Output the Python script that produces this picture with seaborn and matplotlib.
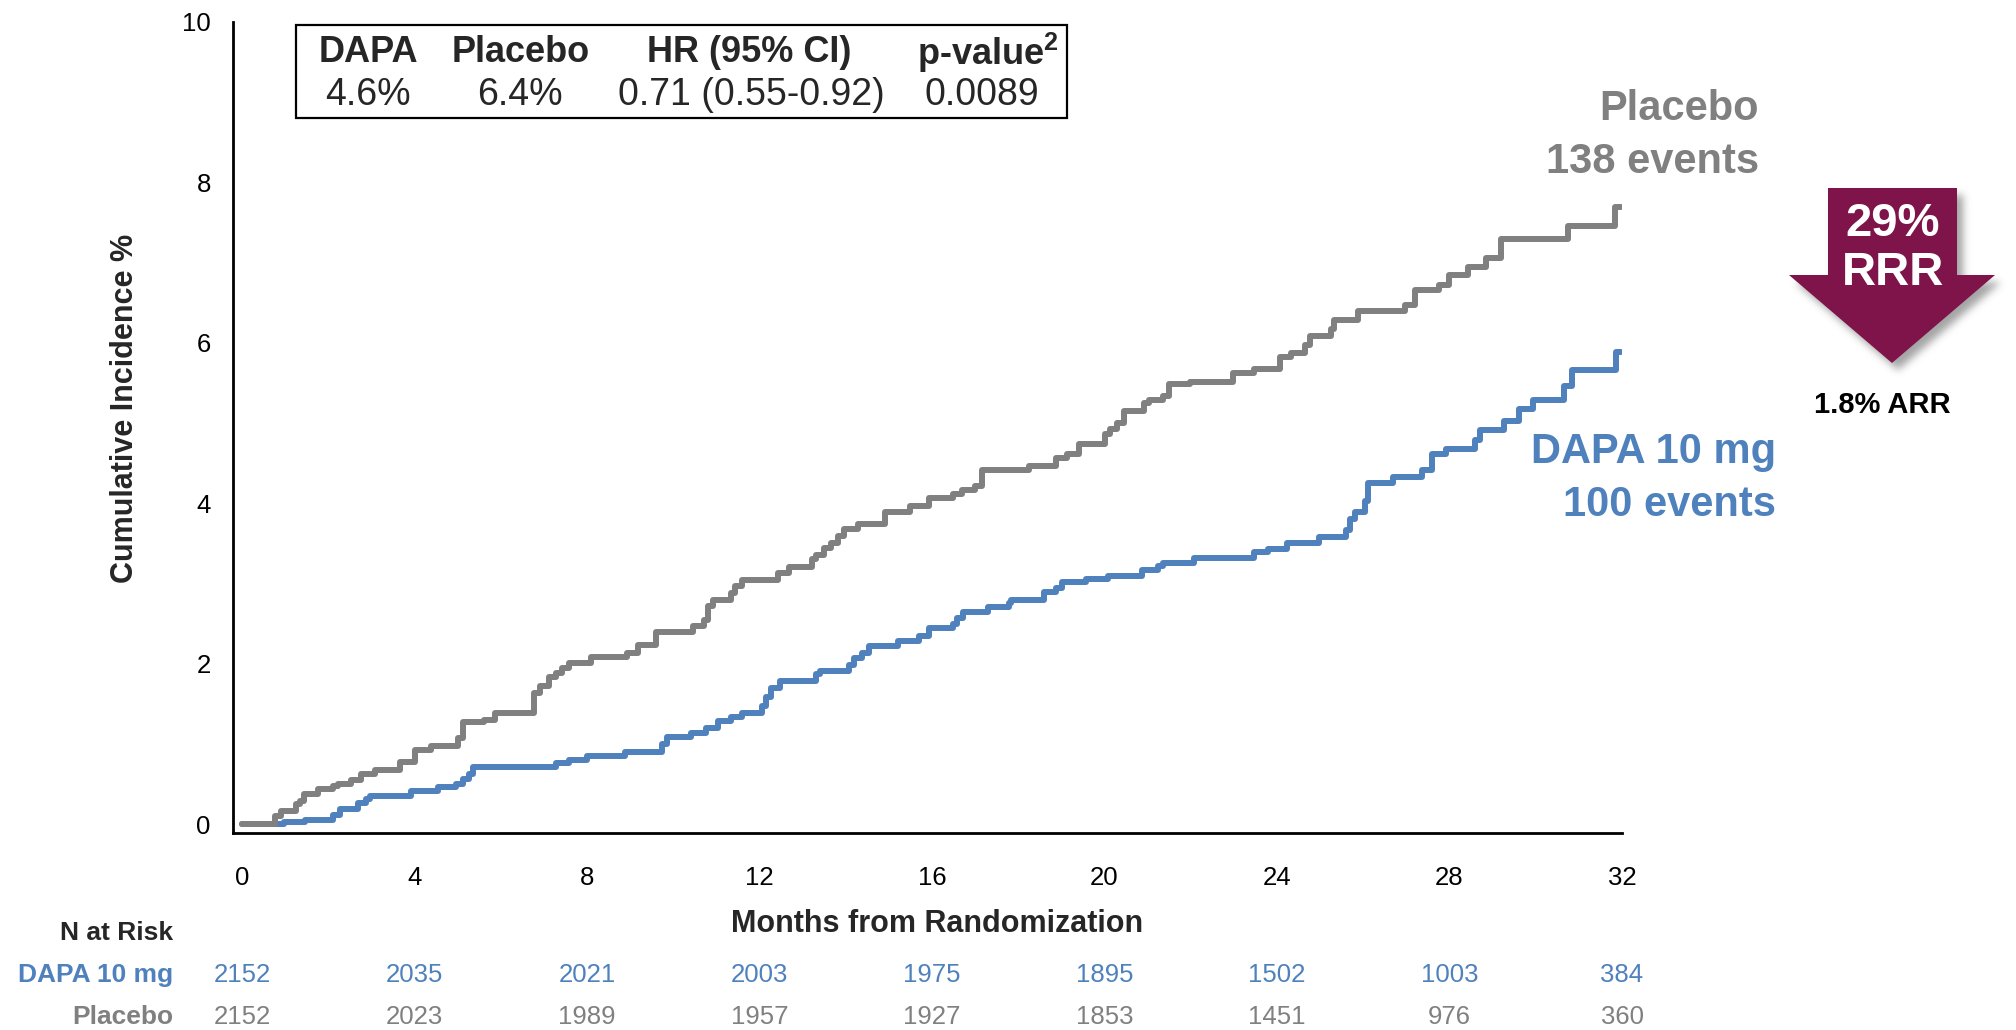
import numpy as np
import pandas as pd
import matplotlib
matplotlib.use("Agg")
import matplotlib.pyplot as plt
import matplotlib.transforms as mtransforms
from matplotlib.patches import Polygon, Rectangle
from matplotlib.path import Path
import seaborn as sns

# ---------------------------------------------------------------- data
placebo_months = [0, 0.77, 0.91, 1.24, 1.34, 1.44, 1.75, 2.11, 2.22, 2.53, 2.76, 3.09,
                  3.66, 4.00, 4.38, 5.00, 5.13, 5.62, 5.86, 6.78, 6.91, 7.11, 7.27, 7.42,
                  7.58, 8.09, 8.92, 9.18, 9.59, 10.46, 10.72, 10.80, 10.93, 11.34, 11.44,
                  11.60, 12.42, 12.68, 13.22, 13.30, 13.50, 13.66, 13.81, 13.97, 14.28,
                  14.92, 15.50, 15.94, 16.48, 16.70, 17.00, 17.17, 18.26, 18.88, 19.14,
                  19.40, 20.01, 20.12, 20.29, 20.46, 20.91, 21.02, 21.35, 21.50, 21.99,
                  22.97, 23.47, 24.08, 24.33, 24.64, 24.77, 25.25, 25.33, 25.87, 26.96,
                  27.20, 27.76, 27.98, 28.43, 28.85, 29.19, 30.75, 31.83, 31.98]
placebo_pct = [0, 0.10, 0.17, 0.25, 0.29, 0.37, 0.44, 0.47, 0.50, 0.55, 0.63, 0.67,
               0.78, 0.93, 0.98, 1.08, 1.27, 1.30, 1.38, 1.64, 1.72, 1.83, 1.89, 1.95,
               2.01, 2.08, 2.14, 2.23, 2.39, 2.47, 2.55, 2.72, 2.80, 2.88, 2.97,
               3.05, 3.13, 3.20, 3.30, 3.36, 3.44, 3.51, 3.59, 3.68, 3.74,
               3.89, 3.97, 4.07, 4.11, 4.16, 4.21, 4.41, 4.47, 4.57, 4.62,
               4.74, 4.86, 4.93, 5.00, 5.15, 5.25, 5.29, 5.34, 5.49, 5.51,
               5.63, 5.68, 5.82, 5.87, 5.97, 6.09, 6.17, 6.29, 6.40, 6.47,
               6.66, 6.72, 6.84, 6.94, 7.06, 7.29, 7.46, 7.69, 7.69]

dapa_months = [0, 0.98, 1.46, 2.11, 2.27, 2.70, 2.87, 2.97, 3.92, 4.54, 4.97, 5.13,
               5.26, 5.36, 7.27, 7.58, 7.99, 8.87, 9.74, 9.85, 10.41, 10.77, 11.03,
               11.34, 11.60, 12.06, 12.16, 12.27, 12.47, 13.30, 13.40, 14.07, 14.18,
               14.38, 14.54, 15.20, 15.70, 15.94, 16.48, 16.59, 16.72, 17.30, 17.78,
               17.84, 18.60, 18.88, 19.02, 19.57, 20.07, 20.87, 21.24, 21.35, 22.08,
               23.47, 23.80, 24.22, 24.97, 25.59, 25.70, 25.81, 26.03, 26.11, 26.70,
               27.37, 27.59, 27.93, 28.60, 28.71, 29.27, 29.60, 29.94, 30.66, 30.83,
               31.87, 31.98]
dapa_pct = [0, 0.03, 0.05, 0.12, 0.19, 0.27, 0.32, 0.35, 0.41, 0.46, 0.50, 0.56,
            0.62, 0.71, 0.76, 0.80, 0.85, 0.90, 1.00, 1.09, 1.14, 1.20, 1.29,
            1.33, 1.39, 1.47, 1.58, 1.70, 1.78, 1.87, 1.91, 1.99, 2.07,
            2.14, 2.22, 2.28, 2.34, 2.44, 2.50, 2.57, 2.64, 2.71, 2.76,
            2.80, 2.89, 2.95, 3.02, 3.06, 3.10, 3.17, 3.22, 3.25, 3.32,
            3.39, 3.43, 3.51, 3.58, 3.67, 3.81, 3.89, 4.03, 4.25, 4.33,
            4.42, 4.61, 4.68, 4.79, 4.92, 5.03, 5.17, 5.29, 5.46, 5.66,
            5.88, 5.88]

risk_months = [0, 4, 8, 12, 16, 20, 24, 28, 32]
dapa_at_risk = [2152, 2035, 2021, 2003, 1975, 1895, 1502, 1003, 384]
placebo_at_risk = [2152, 2023, 1989, 1957, 1927, 1853, 1451, 976, 360]

summary_headers = ["DAPA", "Placebo", "HR (95% CI)", r"p-value$^{\mathbf{2}}$"]
summary_values = ["4.6%", "6.4%", "0.71 (0.55-0.92)", "0.0089"]

arm_names = ["DAPA 10 mg", "Placebo"]
arm_events = ["100 events", "138 events"]
rrr_text = ["29%", "RRR"]
arr_text = "1.8% ARR"

BLUE = "#4F81BD"
GRAY = "#808080"
MAROON = "#7E1449"

# ---------------------------------------------------------------- style
sns.set_style("white")
plt.rcParams["font.family"] = ["Liberation Sans", "DejaVu Sans"]
plt.rcParams["mathtext.fontset"] = "custom"
plt.rcParams["mathtext.rm"] = "Liberation Sans"
plt.rcParams["mathtext.bf"] = "Liberation Sans:bold"

W, H = 2016, 1030
fig = plt.figure(figsize=(W / 100, H / 100), dpi=100)
fig.patch.set_facecolor("white")

# main axes, placed in pixel terms
left, right, top, bottom = 233, 1622, 22, 833
ax = fig.add_axes([left / W, 1 - bottom / H, (right - left) / W, (bottom - top) / H])

df = pd.concat([
    pd.DataFrame({"month": dapa_months, "pct": dapa_pct, "arm": "DAPA 10 mg"}),
    pd.DataFrame({"month": placebo_months, "pct": placebo_pct, "arm": "Placebo"}),
], ignore_index=True)

sns.lineplot(data=df, x="month", y="pct", hue="arm",
             hue_order=["DAPA 10 mg", "Placebo"],
             palette={"DAPA 10 mg": BLUE, "Placebo": GRAY},
             estimator=None, sort=True, drawstyle="steps-post",
             linewidth=4.3, legend=False, ax=ax)

ax.set_xlim(-0.21, 32)
ax.set_ylim(-0.11, 10)
ax.set_xticks(risk_months)
ax.set_yticks([0, 2, 4, 6, 8, 10])
ax.set_xlabel("")
ax.set_ylabel("")
for s in ["top", "right"]:
    ax.spines[s].set_visible(False)
for s in ["left", "bottom"]:
    ax.spines[s].set_linewidth(2.0)
    ax.spines[s].set_color("black")
ax.tick_params(axis="x", direction="out", length=13, width=1.8, pad=11,
               labelsize=18.5, colors="black")
ax.tick_params(axis="y", direction="out", length=13, width=1.8, pad=3,
               labelsize=18.5, colors="black")
ax.set_facecolor("none")

# overlay in pixel coordinates for annotations
ov = fig.add_axes([0, 0, 1, 1], zorder=5)
ov.set_xlim(0, W)
ov.set_ylim(H, 0)
ov.axis("off")
ov.patch.set_alpha(0)

# axis titles
ov.text(125, 408, "Cumulative Incidence %", rotation=90, ha="center", va="center",
        fontsize=22, fontweight="bold")
ov.text(937, 924, "Months from Randomization", ha="center", va="center",
        fontsize=22, fontweight="bold")

# number at risk table
xpix = mtransforms.blended_transform_factory(ax.transData, ov.transData)
ov.text(173, 933, "N at Risk", ha="right", va="center", fontsize=19, fontweight="bold")
ov.text(173, 975, arm_names[0], ha="right", va="center", fontsize=19,
        fontweight="bold", color=BLUE)
ov.text(173, 1017, arm_names[1], ha="right", va="center", fontsize=19,
        fontweight="bold", color=GRAY)
for m, nd, npb in zip(risk_months, dapa_at_risk, placebo_at_risk):
    ov.text(m, 975, str(nd), transform=xpix, ha="center", va="center",
            fontsize=18.5, color=BLUE)
    ov.text(m, 1017, str(npb), transform=xpix, ha="center", va="center",
            fontsize=18.5, color=GRAY)

# summary box
ov.add_patch(Rectangle((296, 25), 1067 - 296, 118 - 25, fill=False,
                       edgecolor="black", linewidth=1.6))
head_x = [368, 521, 749, 988]
val_x = [368, 520, 751, 982]
for hx, vx, h, v in zip(head_x, val_x, summary_headers, summary_values):
    ov.text(hx, 53, h, ha="center", va="center", fontsize=26, fontweight="bold")
    ov.text(vx, 95, v, ha="center", va="center", fontsize=27)

# arm labels at the curve ends
ov.text(1759, 109, arm_names[1], ha="right", va="center", fontsize=30,
        fontweight="bold", color=GRAY)
ov.text(1759, 162, arm_events[1], ha="right", va="center", fontsize=30,
        fontweight="bold", color=GRAY)
ov.text(1776, 452, arm_names[0], ha="right", va="center", fontsize=30,
        fontweight="bold", color=BLUE)
ov.text(1776, 505, arm_events[0], ha="right", va="center", fontsize=30,
        fontweight="bold", color=BLUE)

# reduction arrow with soft drop shadow
arrow_pts = np.array([[1828, 188], [1957, 188], [1957, 275], [1995, 275],
                      [1892, 363], [1789, 275], [1828, 275]], dtype=float)
x0, x1, y0, y1 = 1760, 2016, 160, 400
gx, gy = np.meshgrid(np.arange(x0, x1) + 0.5, np.arange(y0, y1) + 0.5)
shadow_path = Path(arrow_pts + np.array([6, 7]))
mask = shadow_path.contains_points(np.c_[gx.ravel(), gy.ravel()]).reshape(gx.shape)
mask = mask.astype(float)
sig = 4.0
k = np.arange(-12, 13)
kern = np.exp(-k ** 2 / (2 * sig ** 2))
kern /= kern.sum()
mask = np.apply_along_axis(lambda r: np.convolve(r, kern, mode="same"), 1, mask)
mask = np.apply_along_axis(lambda c: np.convolve(c, kern, mode="same"), 0, mask)
shadow = np.zeros(mask.shape + (4,))
shadow[..., :3] = 0.35
shadow[..., 3] = 0.55 * mask
ov.imshow(shadow, extent=(x0, x1, y1, y0), aspect="auto", zorder=1,
          interpolation="bilinear")
ov.add_patch(Polygon(arrow_pts, closed=True, facecolor=MAROON, edgecolor="none",
                     zorder=2))
ov.set_xlim(0, W)
ov.set_ylim(H, 0)
ov.text(1893, 224, rrr_text[0], ha="center", va="center", fontsize=34,
        fontweight="bold", color="white", zorder=3)
ov.text(1893, 273, rrr_text[1], ha="center", va="center", fontsize=34,
        fontweight="bold", color="white", zorder=3)
ov.text(1882, 405, arr_text, ha="center", va="center", fontsize=21,
        fontweight="bold", color="black", zorder=3)

fig.savefig("out.png", dpi=100, facecolor="white")
